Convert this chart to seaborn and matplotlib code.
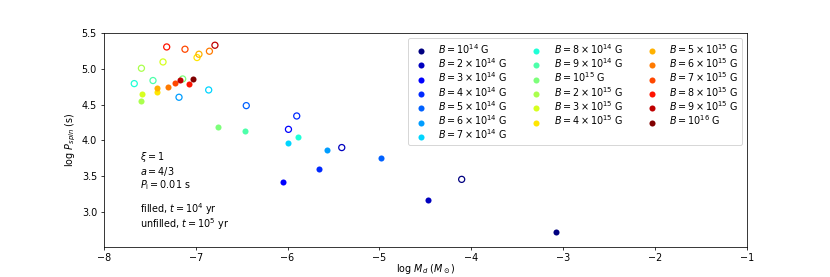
import numpy as np
import pandas as pd
import matplotlib
matplotlib.use("Agg")
import matplotlib.pyplot as plt
import seaborn as sns

# magnetic field values (legend labels)
b_labels = [r"$B = 10^{14}$ G", r"$B = 2 \times 10^{14}$ G", r"$B = 3 \times 10^{14}$ G",
            r"$B = 4 \times 10^{14}$ G", r"$B = 5 \times 10^{14}$ G", r"$B = 6 \times 10^{14}$ G",
            r"$B = 7 \times 10^{14}$ G", r"$B = 8 \times 10^{14}$ G", r"$B = 9 \times 10^{14}$ G",
            r"$B = 10^{15}$ G", r"$B = 2 \times 10^{15}$ G", r"$B = 3 \times 10^{15}$ G",
            r"$B = 4 \times 10^{15}$ G", r"$B = 5 \times 10^{15}$ G", r"$B = 6 \times 10^{15}$ G",
            r"$B = 7 \times 10^{15}$ G", r"$B = 8 \times 10^{15}$ G", r"$B = 9 \times 10^{15}$ G",
            r"$B = 10^{16}$ G"]

# t = 1e4 yr (filled)
logM_1e4 = [-3.08, -4.47, -6.05, -5.66, -4.98, -5.57, -6.00, -5.89, -6.46, -6.76,
            -7.595, -7.58, -7.42, -7.42, -7.30, -7.22, -7.07, -7.167, -7.032]
logP_1e4 = [2.72, 3.16, 3.42, 3.605, 3.75, 3.866, 3.97, 4.05, 4.127, 4.193,
            4.548, 4.646, 4.683, 4.74, 4.753, 4.80, 4.795, 4.842, 4.86]

# t = 1e5 yr (unfilled)
logM_1e5 = [-4.105, -5.41, -5.99, -5.90, -6.449, -7.181, -6.858, -7.668, -7.464, -7.141,
            -7.59, -7.355, -6.985, -6.964, -6.85, -7.116, -7.315, -6.79, np.nan]
logP_1e5 = [3.455, 3.90, 4.155, 4.342, 4.487, 4.604, 4.706, 4.795, 4.838, 4.86,
            5.01, 5.098, 5.16, 5.206, 5.248, 5.276, 5.308, 5.332, np.nan]

colors = plt.cm.jet(np.linspace(0, 1, len(b_labels)))

fig, ax = plt.subplots(figsize=(12, 4.005), dpi=830 / 12)

for i, lab in enumerate(b_labels):
    sns.scatterplot(x=[logM_1e5[i]], y=[logP_1e5[i]], ax=ax, s=40,
                    facecolor="none", edgecolor=colors[i], linewidth=1.3)
for i, lab in enumerate(b_labels):
    sns.scatterplot(x=[logM_1e4[i]], y=[logP_1e4[i]], ax=ax, s=40,
                    color=colors[i], edgecolor=colors[i], linewidth=0, label=lab)

ax.set_xlim(-8, -1)
ax.set_ylim(2.515, 5.5)
ax.set_xlabel(r"log $M_d$ ($M_\odot$)", labelpad=-1)
ax.set_ylabel(r"log $P_{spin}$ (s)")

ax.text(-7.61, 3.86, "$\\xi = 1$\n$a = 4/3$\n$P_{\\rm i} = 0.01$ s", va="top", ha="left",
        fontsize=10, linespacing=1.05)
ax.text(-7.61, 3.15, "filled, $t = 10^4$ yr\nunfilled, $t = 10^5$ yr", va="top", ha="left",
        fontsize=10, linespacing=0.95)

ax.legend(loc="upper right", ncol=3, fontsize=10, labelspacing=0.05)

fig.savefig("out.png", dpi=830 / 12)
